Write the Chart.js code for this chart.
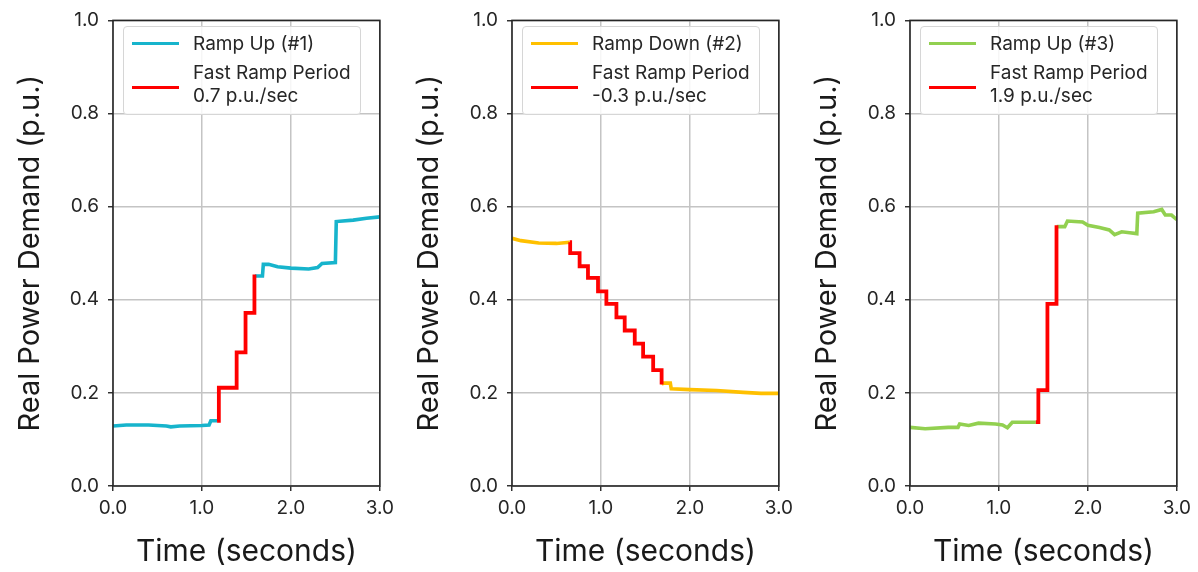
<!DOCTYPE html>
<html>
<head>
<meta charset="utf-8">
<script src="https://cdn.jsdelivr.net/npm/chart.js@4.4.1/dist/chart.umd.min.js"></script>
<style>
  html, body { margin: 0; padding: 0; background: #fff; }
  #wrap { position: relative; width: 1198px; height: 572px; background: #fff; overflow: hidden; font-family: Inter, "Noto Sans", sans-serif; }
  .panel { position: absolute; top: 0; width: 400px; height: 572px; }
  .panel canvas { position: absolute; left: 0; top: 0; }
  .legend { position: absolute; left: 123px; top: 26px; width: 238px; height: 89px; box-sizing: border-box;
            border: 1px solid #d6d6d6; border-radius: 4px; background: rgba(255,255,255,0.85); }
  .legend .ln { position: absolute; left: 8px; width: 47px; height: 3px; }
  .legend .tx { position: absolute; left: 69px; font-size: 19px; line-height: 23px; color: #262626; white-space: nowrap; }
</style>
</head>
<body>
<div id="wrap"></div>
<script>
// ---------------- data ----------------
const timeTicks = [0.0, 1.0, 2.0, 3.0];
const powerTicks = [0.0, 0.2, 0.4, 0.6, 0.8, 1.0];

const seriesNames = ['Ramp Up (#1)', 'Ramp Down (#2)', 'Ramp Up (#3)'];
const rampLabel = 'Fast Ramp Period';
const rampRates = ['0.7 p.u./sec', '-0.3 p.u./sec', '1.9 p.u./sec'];
const seriesColors = ['#17b4cc', '#ffc000', '#92d050'];
const rampColor = '#ff0000';

// Panel 1 - Ramp Up (#1)
const p1PreTime  = [0.00, 0.15, 0.40, 0.60, 0.65, 0.75, 1.00, 1.08, 1.10, 1.17];
const p1PrePower = [0.129, 0.131, 0.131, 0.129, 0.127, 0.129, 0.130, 0.131, 0.140, 0.140];
const p1RampTime  = [1.17, 1.19, 1.39, 1.49, 1.59];
const p1RampPower = [0.140, 0.211, 0.287, 0.372, 0.454];
const p1PostTime  = [1.595, 1.68, 1.69, 1.75, 1.85, 2.00, 2.20, 2.30, 2.35, 2.50, 2.51, 2.70, 2.85, 3.00];
const p1PostPower = [0.451, 0.451, 0.476, 0.476, 0.471, 0.468, 0.466, 0.469, 0.478, 0.480, 0.568, 0.571, 0.575, 0.578];

// Panel 2 - Ramp Down (#2)
const p2PreTime  = [0.00, 0.10, 0.30, 0.50, 0.65];
const p2PrePower = [0.532, 0.527, 0.522, 0.521, 0.5235];
const p2RampTime  = [0.65, 0.654, 0.760, 0.854, 0.967, 1.061, 1.174, 1.267, 1.380, 1.474, 1.587, 1.682];
const p2RampPower = [0.5235, 0.500, 0.472, 0.447, 0.418, 0.391, 0.362, 0.334, 0.306, 0.278, 0.249, 0.218];
const p2PostTime  = [1.682, 1.70, 1.78, 1.79, 2.00, 2.30, 2.60, 2.80, 3.00];
const p2PostPower = [0.218, 0.221, 0.221, 0.209, 0.207, 0.205, 0.201, 0.199, 0.199];

// Panel 3 - Ramp Up (#3)
const p3PreTime  = [0.00, 0.17, 0.43, 0.54, 0.558, 0.66, 0.77, 0.96, 1.04, 1.095, 1.15, 1.415];
const p3PrePower = [0.126, 0.123, 0.126, 0.126, 0.133, 0.130, 0.135, 0.133, 0.131, 0.125, 0.137, 0.137];
const p3RampTime  = [1.415, 1.443, 1.545, 1.647];
const p3RampPower = [0.137, 0.206, 0.391, 0.560];
const p3PostTime  = [1.65, 1.74, 1.77, 1.94, 2.00, 2.13, 2.24, 2.30, 2.38, 2.47, 2.55, 2.56, 2.74, 2.83, 2.87, 2.94, 3.00];
const p3PostPower = [0.557, 0.557, 0.569, 0.567, 0.560, 0.555, 0.550, 0.540, 0.546, 0.544, 0.542, 0.586, 0.589, 0.594, 0.582, 0.582, 0.572];

const xTitle = 'Time (seconds)';
const yTitle = 'Real Power Demand (p.u.)';
// --------------------------------------

const panels = [
  { pre: [p1PreTime, p1PrePower], ramp: [p1RampTime, p1RampPower], post: [p1PostTime, p1PostPower] },
  { pre: [p2PreTime, p2PrePower], ramp: [p2RampTime, p2RampPower], post: [p2PostTime, p2PostPower] },
  { pre: [p3PreTime, p3PrePower], ramp: [p3RampTime, p3RampPower], post: [p3PostTime, p3PostPower] },
];
const panelLeft = [0, 399, 797];

const zip = (t, v) => t.map((x, i) => ({ x: x, y: v[i] }));

const framePlugin = {
  id: 'frame',
  afterDatasetsDraw(chart) {
    const a = chart.chartArea, ctx = chart.ctx;
    ctx.save();
    ctx.strokeStyle = '#262626';
    ctx.lineWidth = 1.6;
    ctx.strokeRect(a.left, a.top, a.right - a.left, a.bottom - a.top);
    ctx.restore();
  }
};

const FONT = 'Inter, "Noto Sans", sans-serif';
const wrap = document.getElementById('wrap');

panels.forEach((p, i) => {
  const div = document.createElement('div');
  div.className = 'panel';
  div.style.left = panelLeft[i] + 'px';
  const cv = document.createElement('canvas');
  cv.width = 400; cv.height = 572;
  cv.style.width = '400px'; cv.style.height = '572px';
  div.appendChild(cv);

  const lg = document.createElement('div');
  lg.className = 'legend';
  lg.innerHTML =
    '<div class="ln" style="top:15px;background:' + seriesColors[i] + '"></div>' +
    '<div class="tx" style="top:5px">' + seriesNames[i] + '</div>' +
    '<div class="ln" style="top:59px;background:' + rampColor + '"></div>' +
    '<div class="tx" style="top:34px">' + rampLabel + '<br>' + rampRates[i] + '</div>';
  div.appendChild(lg);
  wrap.appendChild(div);

  const mainData = zip(p.pre[0], p.pre[1])
    .concat([{ x: p.ramp[0][1], y: null }])
    .concat(zip(p.post[0], p.post[1]));

  new Chart(cv, {
    type: 'line',
    data: {
      datasets: [
        { label: rampLabel + ' ' + rampRates[i], data: zip(p.ramp[0], p.ramp[1]), borderColor: rampColor,
          borderWidth: 3.8, pointRadius: 0, stepped: 'before', order: 0 },
        { label: seriesNames[i], data: mainData, borderColor: seriesColors[i],
          borderWidth: 3.6, pointRadius: 0, tension: 0, spanGaps: false, order: 1 }
      ]
    },
    options: {
      responsive: false,
      animation: false,
      events: [],
      layout: { padding: { top: 16, right: 20, left: 0, bottom: 0 } },
      plugins: { legend: { display: false }, tooltip: { enabled: false } },
      scales: {
        x: {
          type: 'linear', min: 0, max: 3,
          afterBuildTicks: (s) => { s.ticks = timeTicks.map(v => ({ value: v })); },
          afterFit: (s) => { s.height = 86; },
          border: { display: false },
          grid: { color: '#c4c4c4', lineWidth: 1.5, tickLength: 5, tickColor: '#262626', tickWidth: 1.4 },
          ticks: { color: '#262626', font: { family: FONT, size: 19 }, padding: 6, maxRotation: 0,
                   callback: (v) => Number(v).toFixed(1) },
          title: { display: true, text: xTitle, color: '#1a1a1a', font: { family: FONT, size: 30 },
                   padding: { top: 0, bottom: 2 } }
        },
        y: {
          type: 'linear', min: 0, max: 1,
          afterBuildTicks: (s) => { s.ticks = powerTicks.map(v => ({ value: v })); },
          afterFit: (s) => { s.width = 113; },
          border: { display: false },
          grid: { color: '#c4c4c4', lineWidth: 1.5, tickLength: 5, tickColor: '#262626', tickWidth: 1.4 },
          ticks: { color: '#262626', font: { family: FONT, size: 19 }, padding: 9,
                   callback: (v) => Number(v).toFixed(1) },
          title: { display: true, text: yTitle, color: '#1a1a1a', font: { family: FONT, size: 29 },
                   padding: { top: 13, bottom: 0 } }
        }
      }
    },
    plugins: [framePlugin]
  });
});
</script>
</body>
</html>
